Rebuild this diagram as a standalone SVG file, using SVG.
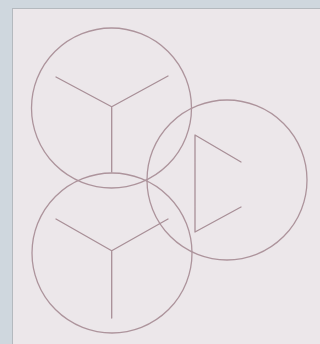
<svg xmlns="http://www.w3.org/2000/svg" width="320" height="344" viewBox="0 0 320 344">
<style>
.c{fill:none;stroke:#ad949c;stroke-width:1.3}
.l{fill:none;stroke:#a88f97;stroke-width:1.3;stroke-linecap:round;stroke-linejoin:round}
</style>
<rect x="0" y="0" width="320" height="344" fill="#cfd7de"/>
<rect x="12.5" y="8.5" width="310" height="340" fill="#ece7ea" stroke="#b4b9be" stroke-width="1"/>
<g id="top">
<circle class="c" cx="111.5" cy="108" r="80"/>
<path class="l" d="M56 77 L111.7 106.7 L168 76 M111.7 106.7 L111.7 172"/>
</g>
<g id="right">
<circle class="c" cx="227" cy="180" r="80"/>
<path class="l" d="M241 162 L195 135 L195 232 L241 207"/>
</g>
<g id="bottom">
<circle class="c" cx="112" cy="253" r="80"/>
<path class="l" d="M56 219 L111.7 250.7 L168 219 M111.7 250.7 L111.7 318"/>
</g>
<g id="connectors"/>
</svg>
